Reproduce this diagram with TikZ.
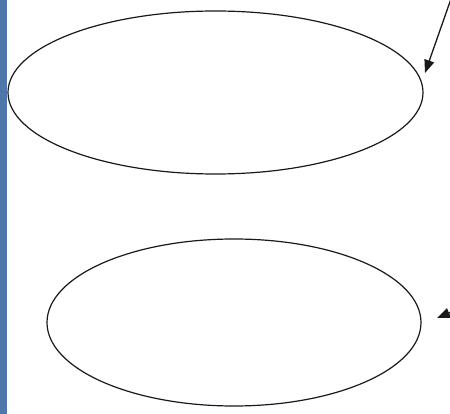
\documentclass[tikz,border=0pt]{standalone}
\usetikzlibrary{arrows.meta}
\definecolor{barblue}{RGB}{79,118,170}
\begin{document}
\begin{tikzpicture}[x=1pt,y=-1pt,
  oval/.style={draw=black!90, line width=1.2pt},
  pointer/.style={draw=black!90, line width=1.3pt, -{Triangle[length=13pt,width=10pt]}}]
\useasboundingbox (0,0) rectangle (450,414);
\clip (0,0) rectangle (450,414);
\fill[barblue] (0,0) rectangle (7,414);
\draw[oval] (215.5,92.5) ellipse [x radius=207.5, y radius=81.5];
\draw[oval] (234,322.5) ellipse [x radius=187, y radius=83.5];
\coordinate (s1) at (452,-4);
\coordinate (t1) at (425,73);
\coordinate (s2) at (480,300);
\coordinate (t2) at (437,318);
\draw[pointer] (s1) -- (t1);
\draw[pointer] (s2) -- (t2);
\end{tikzpicture}
\end{document}
